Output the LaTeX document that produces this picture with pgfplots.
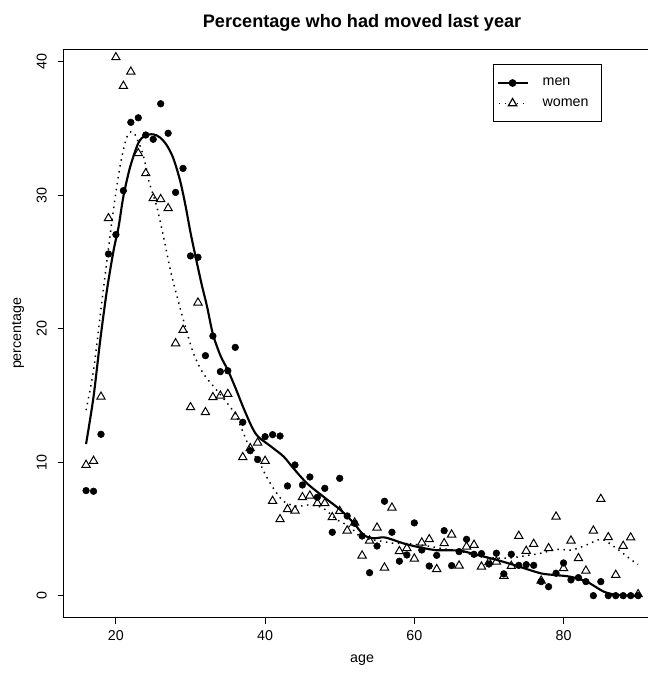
\documentclass[border=0pt]{standalone}
\usepackage{fontspec}
\setmainfont{Liberation Sans}
\usepackage{pgfplots}
\pgfplotsset{compat=1.18}
\usepackage{pgfplotstable}

\pgfplotstableread{
age pct
16 7.87
17 7.82
18 12.09
19 25.6
20 27.05
21 30.34
22 35.46
23 35.8
24 34.51
25 34.19
26 36.85
27 34.64
28 30.21
29 32.01
30 25.45
31 25.35
32 17.98
33 19.45
34 16.78
35 16.85
36 18.6
37 12.99
38 10.86
39 10.2
40 11.91
41 12.06
42 11.96
43 8.22
44 9.79
45 8.29
46 8.89
47 7.37
48 8.04
49 4.75
50 8.79
51 5.97
52 5.42
53 4.47
54 1.72
55 3.72
56 7.07
57 4.75
58 2.58
59 3.05
60 5.45
61 3.42
62 2.22
63 3.02
64 4.87
65 2.25
66 3.3
67 4.22
68 3.1
69 3.15
70 2.37
71 3.18
72 1.63
73 3.1
74 2.27
75 2.32
76 2.27
77 1.05
78 0.67
79 1.68
80 2.45
81 1.18
82 1.35
83 1.05
84 0
85 1.05
86 0
87 0
88 0
89 0
90 0
}\men

\pgfplotstableread{
age pct
16 9.79
17 10.09
18 14.9
19 28.27
20 40.33
21 38.18
22 39.25
23 33.14
24 31.64
25 29.77
26 29.7
27 29.02
28 18.9
29 19.9
30 14.11
31 21.95
32 13.74
33 14.86
34 14.98
35 15.1
36 13.41
37 10.37
38 11.04
39 11.46
40 10.09
41 7.09
42 5.72
43 6.47
44 6.37
45 7.37
46 7.49
47 6.92
48 6.92
49 5.87
50 6.34
51 4.87
52 5.47
53 3.0
54 4.12
55 5.09
56 2.1
57 6.59
58 3.33
59 3.55
60 2.77
61 3.97
62 4.22
63 1.98
64 3.92
65 4.57
66 2.25
67 3.67
68 3.8
69 2.17
70 2.5
71 2.55
72 1.48
73 2.22
74 4.47
75 3.35
76 3.87
77 1.12
78 3.55
79 5.92
80 2.05
81 4.12
82 2.8
83 1.87
84 4.87
85 7.24
86 4.37
87 1.55
88 3.72
89 4.35
90 0.1
}\women

\pgfplotstableread{
age pct
16 11.36
17 14.9
17.9 19.15
18.8 22.9
19.7 25.9
20.35 27.6
21 29.9
21.9 32.1
23 33.9
23.9 34.46
25 34.56
25.9 34.33
26.8 33.76
27.7 32.76
28.6 31.1
29.3 29.3
30 27.2
30.6 25.6
31.5 23.3
32.2 21.7
33 19.6
34 18.0
35 16.9
36 15.6
37 14.2
38 12.9
38.7 12.16
39.3 11.79
40 11.5
41.1 11.04
42.5 10.41
43.8 9.54
45.6 8.42
47.8 7.42
50.1 6.42
51.9 5.42
53.2 4.55
54.5 4.3
55.9 4.37
57.2 4.17
58.5 3.92
60.3 3.67
62.1 3.47
63 3.4
66.1 3.37
68.4 3.05
71.1 2.67
73.8 2.22
76.9 1.68
78.7 1.55
80.9 1.42
83.1 1.05
85.4 0.3
87.2 0.05
90 0
}\menfit

\pgfplotstableread{
age pct
16 13.9
17 16.9
18 21.5
19 26.0
19.5 28.2
20 30.2
20.5 32.0
21 33.4
21.5 34.4
22 34.75
22.5 34.6
23 34.0
23.5 33.3
24 32.2
24.4 31.1
25 30.0
25.5 29.1
26.3 27.1
27.3 24.4
28.2 22.4
29.3 20.15
30.4 18.15
31.7 16.66
33.5 15.4
35.3 14.16
36 13.6
37 12.3
38 11.0
39.3 9.9
40 9.1
41.1 8.05
42.5 7.05
44.3 6.7
46 6.8
47.8 6.55
49.6 5.7
51.4 5.15
52.7 4.45
54.5 4.17
55.9 4.05
57.2 3.92
59 3.9
60.8 3.8
62 3.7
63 3.6
64 3.5
65 3.45
66 3.35
67 3.2
68.4 2.95
70 2.85
72 2.8
73.5 2.87
75 3.0
76.9 3.17
79.1 3.47
81.1 3.42
83.1 3.8
85.1 4.22
86.9 3.62
88.7 2.85
89.5 2.52
90 2.35
}\womenfit

\begin{document}
\begin{tikzpicture}
\begin{axis}[
  at={(0,0)}, anchor=south west,
  scale only axis, width=447.2pt, height=426pt,
  xmin=13.04, xmax=92.96, ymin=-1.62, ymax=40.93,
  axis line style={line width=0.75pt},
  xtick={20,40,60,80}, ytick={0,10,20,30,40},
  xtick pos=left, ytick pos=left,
  tick align=outside, major tick length=4.8pt,
  tick style={line width=0.75pt, black},
  /pgf/number format/assume math mode=true,
  ticklabel style={font=\fontsize{10.7}{12}\selectfont},
  xticklabel style={anchor=north, inner ysep=5pt},
  yticklabel style={rotate=90, anchor=south, inner ysep=8pt},
  xlabel={age}, ylabel={percentage},
  label style={font=\fontsize{10.7}{12}\selectfont},
  x label style={at={(axis description cs:0.5,-0.0751)}, anchor=center},
  y label style={at={(axis description cs:-0.0771,0.5)}, anchor=center, rotate=0},
  title={Percentage who had moved last year},
  title style={at={(0.5,1)}, anchor=base, yshift=10.4pt, font=\bfseries\fontsize{13.6}{15}\selectfont},
  legend style={at={(0.719,0.974)}, anchor=north west, draw=black, line width=0.75pt,
    inner xsep=2.5pt, inner ysep=10.2pt, row sep=7.5pt, column sep=10.5pt,
    font=\fontsize{10.7}{12}\selectfont, nodes={inner sep=0pt}},
  legend cell align=left,
]
\addplot[only marks, mark=*, mark size=2.5pt, black,
  legend image code/.code={\draw[line width=1.6pt] (0pt,0pt) -- (22.5pt,0pt); \fill (11.25pt,0pt) circle (2.5pt);}]
  table[x=age, y=pct] {\men};
\addlegendentry{men}
\addplot[only marks, mark=triangle, mark size=3.6pt, black, mark options={line width=0.75pt, fill=none},
  legend image code/.code={\path[draw=none, fill=none] (0pt,-3.6pt) -- (0pt,3.6pt);
    \draw[line width=1.1pt, dash pattern=on 1.1pt off 3.4pt] (1pt,0pt) -- (22.5pt,0pt);
    \draw[line width=0.9pt, fill=white] (11.25pt,0pt) +(90:3.6pt) -- +(210:3.6pt) -- +(330:3.6pt) -- cycle;}]
  table[x=age, y=pct] {\women};
\addlegendentry{women\hspace*{7.5pt}}
\addplot[forget plot, smooth, line width=1.6pt, black] table[x=age, y=pct] {\menfit};
\addplot[forget plot, smooth, line width=1.1pt, black, dash pattern=on 1.1pt off 3.4pt] table[x=age, y=pct] {\womenfit};
\end{axis}
\pgfresetboundingbox
\useasboundingbox (-48pt,-41.8pt) rectangle (438pt,463pt);
\end{tikzpicture}
\end{document}
